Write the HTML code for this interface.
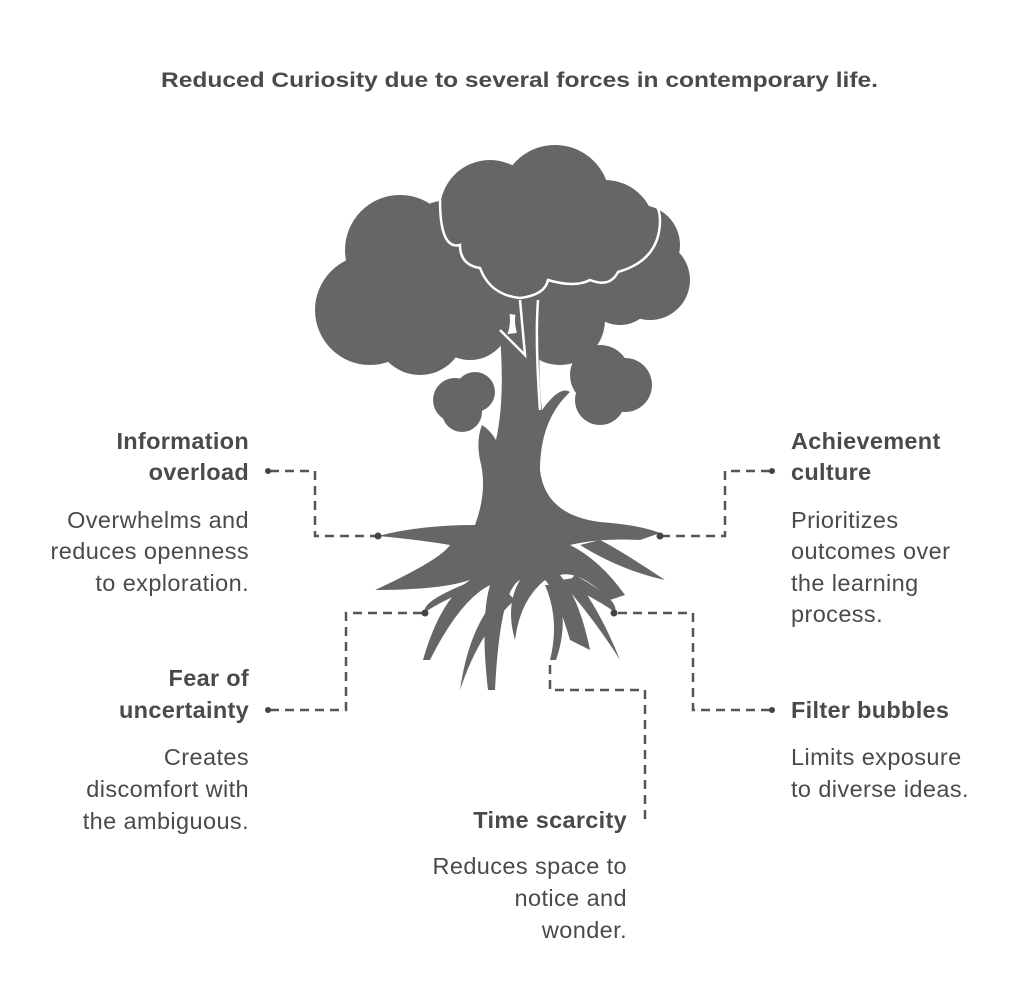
<!DOCTYPE html>
<html><head><meta charset="utf-8"><style>
html,body{margin:0;padding:0;background:#fff;}
svg{display:block}
text{font-family:"Liberation Sans",Arial,sans-serif;fill:#4a4a4a}
.b{font-weight:bold;font-size:23.5px;letter-spacing:0.3px}
.r{font-size:23.5px;letter-spacing:0.4px}
</style></head><body>
<svg width="1024" height="1008" viewBox="0 0 1024 1008">
<text x="161" y="87" class="b" style="font-size:21px;letter-spacing:0" textLength="717" lengthAdjust="spacingAndGlyphs">Reduced Curiosity due to several forces in contemporary life.</text>

<g fill="#666">
<circle cx="400" cy="250" r="55"/>
<circle cx="370" cy="310" r="55"/>
<circle cx="420" cy="330" r="45"/>
<circle cx="450" cy="260" r="60"/>
<circle cx="470" cy="320" r="40"/>
<circle cx="640" cy="245" r="40"/>
<circle cx="650" cy="280" r="40"/>
<circle cx="620" cy="290" r="35"/>
<circle cx="560" cy="320" r="45"/>
<circle cx="490" cy="210" r="50"/>
<circle cx="555" cy="200" r="55"/>
<circle cx="605" cy="230" r="50"/>
<circle cx="520" cy="260" r="55"/>
<circle cx="580" cy="270" r="45"/>
<circle cx="455" cy="400" r="22"/>
<circle cx="475" cy="392" r="20"/>
<circle cx="462" cy="412" r="20"/>
<circle cx="600" cy="375" r="30"/>
<circle cx="625" cy="385" r="27"/>
<circle cx="600" cy="400" r="25"/>
<path d="M500 335 L540 330 Q538 380 542 410 Q560 385 570 392 Q540 420 540 470 Q545 515 600 522 Q640 525 660 533 L640 540 Q600 538 570 545 Q600 560 625 595 L610 600 Q580 570 560 575 Q580 600 590 650 L570 640 Q555 590 545 580 Q520 600 515 640 Q505 605 520 580 Q500 590 495 690 L488 690 Q480 620 490 585 Q460 600 430 660 L423 660 Q440 600 470 580 Q440 590 375 590 Q440 560 450 545 Q420 540 378 536 Q420 525 475 525 Q488 490 480 460 Q476 440 482 425 Q490 430 496 440 Q505 400 500 335 Z"/>
<path d="M488 575 Q420 600 425 612 Q460 590 500 580Z"/>
<path d="M575 575 Q620 600 615 612 Q590 595 565 585Z"/>
<path d="M580 545 Q620 570 665 580 Q620 550 600 540Z"/>
<path d="M560 580 Q595 620 620 660 Q600 610 575 578Z"/>
<path d="M505 590 Q470 620 460 690 Q480 630 515 600Z"/>
<path d="M545 585 Q560 620 550 660 L556 660 Q570 620 555 585Z"/>
</g>
<g stroke="#fff" stroke-width="2.5" fill="none">
<path d="M440 200 Q440 250 460 245 Q460 265 480 268 Q490 295 520 298 Q545 295 548 280 Q575 288 590 280 Q610 288 618 272 Q660 260 660 220 Q660 200 640 193"/>
<path d="M500 330 L525 355 L520 300"/>
<path d="M538 300 Q535 340 540 410"/>
</g>

<g stroke="#555" stroke-width="2.5" stroke-dasharray="9,6" fill="none">
<path d="M270 471 H315 V536 H378"/>
<path d="M770 471 H725 V536 H660"/>
<path d="M270 710 H346 V613 H425"/>
<path d="M770 710 H693 V613 H614"/>
<path d="M550 665 V690 H645 V820"/>
</g>
<g fill="#444">
<circle cx="268" cy="471" r="3"/><circle cx="378" cy="536" r="3.5"/>
<circle cx="772" cy="471" r="3"/><circle cx="660" cy="536" r="3.5"/>
<circle cx="268" cy="710" r="3"/><circle cx="425" cy="613" r="3.5"/>
<circle cx="772" cy="710" r="3"/><circle cx="614" cy="613" r="3.5"/>
</g>

<g text-anchor="end">
<text x="249" y="449" class="b">Information</text>
<text x="249" y="480" class="b">overload</text>
<text x="249" y="528" class="r">Overwhelms and</text>
<text x="249" y="559" class="r">reduces openness</text>
<text x="249" y="591" class="r">to exploration.</text>
<text x="249" y="686" class="b">Fear of</text>
<text x="249" y="718" class="b">uncertainty</text>
<text x="249" y="765" class="r">Creates</text>
<text x="249" y="797" class="r">discomfort with</text>
<text x="249" y="829" class="r">the ambiguous.</text>
<text x="627" y="828" class="b">Time scarcity</text>
<text x="627" y="874" class="r">Reduces space to</text>
<text x="627" y="906" class="r">notice and</text>
<text x="627" y="938" class="r">wonder.</text>
</g>
<text x="791" y="449" class="b">Achievement</text>
<text x="791" y="480" class="b">culture</text>
<text x="791" y="528" class="r">Prioritizes</text>
<text x="791" y="559" class="r">outcomes over</text>
<text x="791" y="591" class="r">the learning</text>
<text x="791" y="622" class="r">process.</text>
<text x="791" y="718" class="b">Filter bubbles</text>
<text x="791" y="765" class="r">Limits exposure</text>
<text x="791" y="797" class="r">to diverse ideas.</text>
</svg>
</body></html>
